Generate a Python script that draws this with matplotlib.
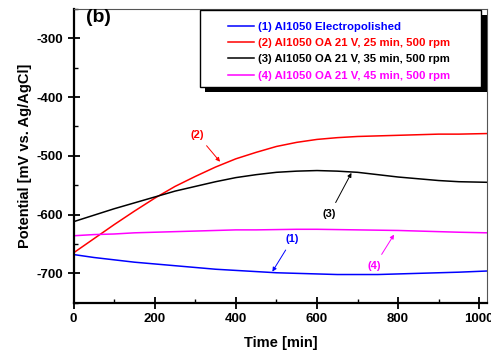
import matplotlib
matplotlib.use("Agg")
import matplotlib.pyplot as plt
from matplotlib.patches import Rectangle
from matplotlib.ticker import MultipleLocator

plt.rcParams['font.family'] = ['Liberation Sans', 'DejaVu Sans']
plt.rcParams['font.weight'] = 'bold'
plt.rcParams['axes.unicode_minus'] = False

# Open-circuit potential vs. time readings
time_min = [0, 50, 100, 150, 200, 250, 300, 350, 400, 450, 500, 550, 600,
            650, 700, 750, 800, 850, 900, 950, 1020]

pot_electropolished = [-668, -673, -677, -681, -684, -687, -690, -693, -695, -697, -699, -700, -701,
                       -702, -702, -702, -701, -700, -699, -698, -696]
pot_oa_25min = [-665, -641, -617, -594, -572, -552, -535, -519, -505, -494, -484, -477, -472,
                -469, -467, -466, -465, -464, -463, -463, -462]
pot_oa_35min = [-612, -601, -590, -580, -570, -560, -552, -544, -537, -532, -528, -526, -525,
                -526, -528, -532, -536, -539, -542, -544, -545]
pot_oa_45min = [-636, -634, -633, -631, -630, -629, -628, -627, -626, -626, -625.5, -625, -625,
                -625.5, -626, -626.5, -627, -628, -629, -630, -631]

series_labels = [
    "(1) Al1050 Electropolished",
    "(2) Al1050 OA 21 V, 25 min, 500 rpm",
    "(3) Al1050 OA 21 V, 35 min, 500 rpm",
    "(4) Al1050 OA 21 V, 45 min, 500 rpm",
]
series_colors = ["#0000ff", "#ff0000", "#000000", "#ff00ff"]

fig = plt.figure(figsize=(4.91, 3.52), dpi=100)
ax = fig.add_axes([0.150, 0.140, 0.8425, 0.8344])

for y, lab, c in zip([pot_electropolished, pot_oa_25min, pot_oa_35min, pot_oa_45min],
                     series_labels, series_colors):
    ax.plot(time_min, y, color=c, lw=1.1, label=lab)

ax.set_xlim(0, 1020)
ax.set_ylim(-750, -250)
ax.xaxis.set_major_locator(MultipleLocator(200))
ax.xaxis.set_minor_locator(MultipleLocator(100))
ax.yaxis.set_major_locator(MultipleLocator(100))
ax.yaxis.set_minor_locator(MultipleLocator(50))
ax.tick_params(which='major', direction='inout', length=8, width=1.3, labelsize=9.5)
ax.tick_params(which='minor', direction='in', length=3, width=1.0)
ax.tick_params(top=False, right=False, which='both')
for lab in ax.get_xticklabels() + ax.get_yticklabels():
    lab.set_fontweight('bold')

for s in ('left', 'bottom'):
    ax.spines[s].set_linewidth(1.6)
    ax.spines[s].set_color('black')
for s in ('top', 'right'):
    ax.spines[s].set_linewidth(0.8)
    ax.spines[s].set_color('#555555')

ax.set_xlabel("Time [min]", fontsize=10.5, fontweight='bold', labelpad=8)
ax.set_ylabel("Potential [mV vs. Ag/AgCl]", fontsize=10.5, fontweight='bold', labelpad=3)

ax.text(60, -265, "(b)", fontsize=14, fontweight='bold', ha='center', va='center')

# legend box: frame and solid shadow drawn separately so the padding can be set freely
box_x0, box_x1 = 0.305, 0.985
box_y0, box_y1 = 0.735, 0.997
shadow_dx, shadow_dy = 0.0135, -0.016
ax.add_patch(Rectangle((box_x0 + shadow_dx, box_y0 + shadow_dy), box_x1 - box_x0, box_y1 - box_y0,
                       transform=ax.transAxes, facecolor='black', edgecolor='none',
                       zorder=4.8, clip_on=False))
ax.add_patch(Rectangle((box_x0, box_y0), box_x1 - box_x0, box_y1 - box_y0,
                       transform=ax.transAxes, facecolor='white', edgecolor='black', lw=1.0,
                       zorder=4.9, clip_on=False))

leg = ax.legend(loc='upper left', bbox_to_anchor=(0.373, 0.956), frameon=False,
                prop={'size': 8.2, 'weight': 'bold'}, handlelength=2.3, handletextpad=0.35,
                labelspacing=0.55, borderpad=0.0, borderaxespad=0)
leg.set_zorder(5)
for txt, c in zip(leg.get_texts(), series_colors):
    txt.set_color(c)

# annotations with arrows
def tag(text, tip, label_pos, color):
    ax.annotate(text, xy=tip, xytext=label_pos, color=color, fontsize=8,
                fontweight='bold', ha='center', va='center',
                arrowprops=dict(arrowstyle='-|>', color=color, lw=0.7,
                                mutation_scale=6, shrinkA=3, shrinkB=0))

tag("(2)", (361, -510), (305, -464), '#ff0000')
tag("(3)", (685, -529), (631, -599), 'black')
tag("(1)", (490, -697), (540, -641), '#0000ff')
tag("(4)", (790, -634), (742, -687), '#ff00ff')

fig.savefig("out.png", dpi=100)
